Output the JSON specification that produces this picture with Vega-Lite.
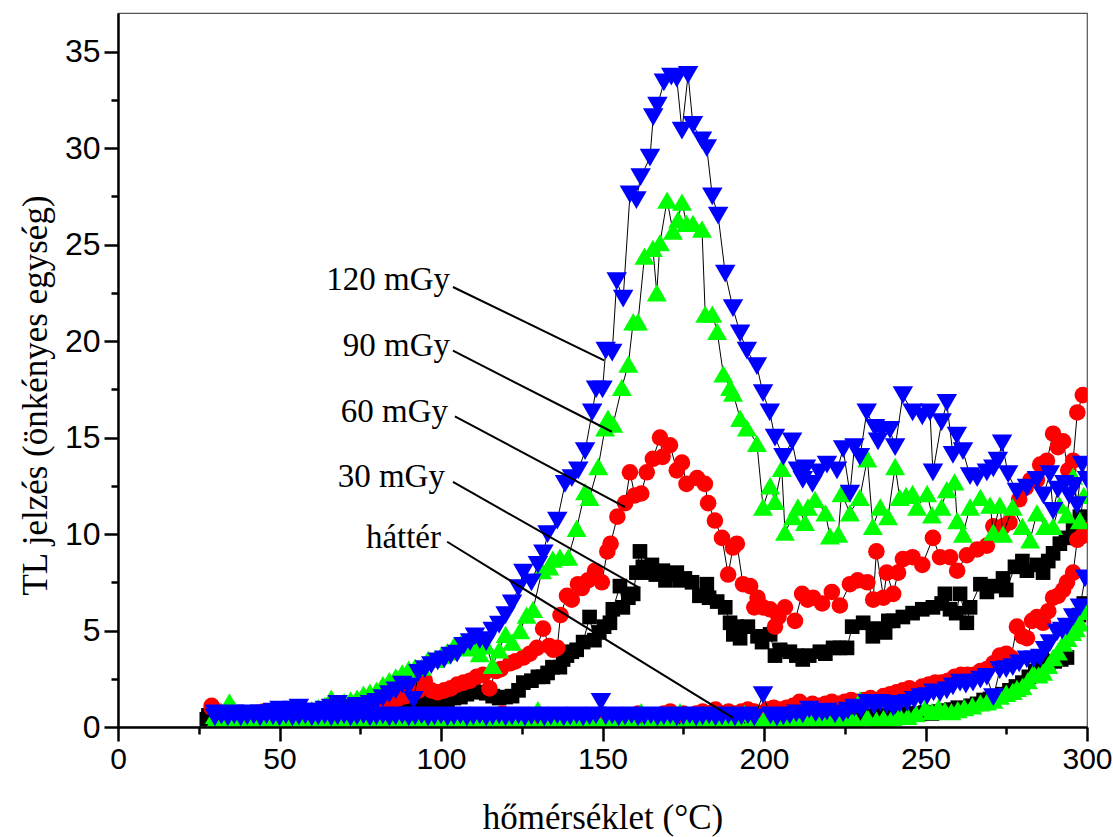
{
"$schema":"https://vega.github.io/schema/vega-lite/v6.json",
"width":969,"height":714,
"autosize":{"type":"none"},
"padding":{"left":118,"top":13,"right":26,"bottom":110},
"background":"white",
"config":{"view":{"stroke":"#555","strokeWidth":1.2}},
"datasets":{
"ann":[
{"x1":103.7,"y1":22.8,"x2":150.5,"y2":19.0,"tx":102.8,"ty":22.65,"l":"120 mGy"},
{"x1":103.7,"y1":19.5,"x2":152.9,"y2":15.3,"tx":102.8,"ty":19.23,"l":"90 mGy"},
{"x1":104.3,"y1":16.1,"x2":157.0,"y2":11.4,"tx":102.2,"ty":15.81,"l":"60 mGy"},
{"x1":103.7,"y1":12.7,"x2":161.6,"y2":7.2,"tx":101.2,"ty":12.44,"l":"30 mGy"},
{"x1":101.9,"y1":9.6,"x2":190.4,"y2":0.47,"tx":100.0,"ty":9.28,"l":"háttér"}
],
"pts":[
{"s":"k","t":28,"v":0.6},{"s":"k","t":30,"v":0.5},{"s":"k","t":32,"v":0.6},{"s":"k","t":34,"v":0.5},{"s":"k","t":36,"v":0.6},{"s":"k","t":38,"v":0.5},{"s":"k","t":40,"v":0.6},{"s":"k","t":42,"v":0.5},{"s":"k","t":44,"v":0.6},{"s":"k","t":46,"v":0.6},{"s":"k","t":48,"v":0.7},{"s":"k","t":50,"v":0.6},{"s":"k","t":52,"v":0.7},{"s":"k","t":54,"v":0.6},{"s":"k","t":56,"v":0.7},{"s":"k","t":58,"v":0.7},{"s":"k","t":60,"v":0.8},{"s":"k","t":62,"v":0.7},{"s":"k","t":64,"v":0.8},{"s":"k","t":66,"v":0.8},{"s":"k","t":68,"v":0.9},{"s":"k","t":70,"v":0.8},{"s":"k","t":72,"v":0.9},{"s":"k","t":74,"v":1.0},{"s":"k","t":76,"v":0.9},{"s":"k","t":78,"v":1.0},{"s":"k","t":80,"v":1.1},{"s":"k","t":82,"v":1.0},{"s":"k","t":84,"v":1.1},{"s":"k","t":86,"v":1.2},{"s":"k","t":88,"v":1.1},{"s":"k","t":90,"v":1.2},{"s":"k","t":92,"v":1.25},{"s":"k","t":94,"v":1.3},{"s":"k","t":96,"v":1.3},{"s":"k","t":98,"v":1.3},{"s":"k","t":100,"v":1.35},{"s":"k","t":102,"v":1.4},{"s":"k","t":104,"v":1.5},{"s":"k","t":106,"v":1.55},{"s":"k","t":108,"v":1.7},{"s":"k","t":110,"v":1.9},{"s":"k","t":112,"v":1.8},{"s":"k","t":114,"v":1.75},{"s":"k","t":116,"v":1.6},{"s":"k","t":118,"v":1.5},{"s":"k","t":120,"v":1.55},{"s":"k","t":122,"v":1.6},{"s":"k","t":124,"v":1.9},{"s":"k","t":125.5,"v":2.3},{"s":"k","t":128,"v":2.4},{"s":"k","t":130,"v":2.6},{"s":"k","t":131.6,"v":2.6},{"s":"k","t":133,"v":2.8},{"s":"k","t":134.5,"v":3.1},{"s":"k","t":136.8,"v":3.1},{"s":"k","t":137.8,"v":3.5},{"s":"k","t":139,"v":3.7},{"s":"k","t":140.5,"v":3.9},{"s":"k","t":142,"v":4.0},{"s":"k","t":144,"v":4.4},{"s":"k","t":146,"v":5.7},{"s":"k","t":147.5,"v":4.5},{"s":"k","t":149,"v":4.9},{"s":"k","t":150.5,"v":5.2},{"s":"k","t":152.3,"v":5.4},{"s":"k","t":153.2,"v":6.1},{"s":"k","t":155.4,"v":7.3},{"s":"k","t":156.3,"v":6.2},{"s":"k","t":158,"v":6.7},{"s":"k","t":159.5,"v":6.9},{"s":"k","t":160.5,"v":8.0},{"s":"k","t":161.6,"v":9.1},{"s":"k","t":162.5,"v":8.3},{"s":"k","t":164.7,"v":8.0},{"s":"k","t":165.3,"v":8.4},{"s":"k","t":166.5,"v":7.9},{"s":"k","t":168.7,"v":8.1},{"s":"k","t":169.5,"v":7.6},{"s":"k","t":171,"v":7.9},{"s":"k","t":173,"v":8.0},{"s":"k","t":174,"v":7.6},{"s":"k","t":175.5,"v":7.7},{"s":"k","t":177.7,"v":7.5},{"s":"k","t":180,"v":6.8},{"s":"k","t":182.3,"v":7.4},{"s":"k","t":183,"v":6.7},{"s":"k","t":185.5,"v":6.5},{"s":"k","t":188,"v":6.2},{"s":"k","t":189.5,"v":5.4},{"s":"k","t":190.5,"v":4.8},{"s":"k","t":191.5,"v":5.2},{"s":"k","t":192.6,"v":4.6},{"s":"k","t":195,"v":5.2},{"s":"k","t":198,"v":4.7},{"s":"k","t":199.4,"v":4.4},{"s":"k","t":201.9,"v":4.8},{"s":"k","t":203.4,"v":3.7},{"s":"k","t":205,"v":4.0},{"s":"k","t":208,"v":3.9},{"s":"k","t":210,"v":3.7},{"s":"k","t":212,"v":3.5},{"s":"k","t":214,"v":3.7},{"s":"k","t":217.3,"v":3.9},{"s":"k","t":219,"v":3.8},{"s":"k","t":221.4,"v":4.1},{"s":"k","t":223.5,"v":4.1},{"s":"k","t":225.7,"v":4.1},{"s":"k","t":227.3,"v":5.2},{"s":"k","t":230.7,"v":5.4},{"s":"k","t":233.7,"v":4.7},{"s":"k","t":235,"v":5.1},{"s":"k","t":237.5,"v":4.9},{"s":"k","t":238.5,"v":5.5},{"s":"k","t":240,"v":5.5},{"s":"k","t":243,"v":5.7},{"s":"k","t":246,"v":5.9},{"s":"k","t":249,"v":6.1},{"s":"k","t":252.3,"v":6.2},{"s":"k","t":255,"v":6.4},{"s":"k","t":256,"v":6.9},{"s":"k","t":257.6,"v":6.1},{"s":"k","t":259.5,"v":5.9},{"s":"k","t":260.7,"v":6.9},{"s":"k","t":262.8,"v":5.4},{"s":"k","t":263.8,"v":6.2},{"s":"k","t":267,"v":7.4},{"s":"k","t":269,"v":7.0},{"s":"k","t":271,"v":7.3},{"s":"k","t":274,"v":7.7},{"s":"k","t":275,"v":7.1},{"s":"k","t":277.7,"v":8.3},{"s":"k","t":280,"v":8.6},{"s":"k","t":281.4,"v":8.1},{"s":"k","t":284.5,"v":8.4},{"s":"k","t":286.4,"v":8.0},{"s":"k","t":288,"v":8.6},{"s":"k","t":289.5,"v":9.0},{"s":"k","t":291.6,"v":9.5},{"s":"k","t":293.5,"v":9.8},{"s":"k","t":295.7,"v":10.2},{"s":"k","t":297.8,"v":10.9},{"s":"k","t":299.5,"v":10.4},
{"s":"kh","t":27.5,"v":0.4},{"s":"kh","t":30,"v":0.3},{"s":"kh","t":32,"v":0.4},{"s":"kh","t":34,"v":0.3},{"s":"kh","t":36,"v":0.4},{"s":"kh","t":38,"v":0.3},{"s":"kh","t":40,"v":0.35},{"s":"kh","t":42,"v":0.4},{"s":"kh","t":44,"v":0.3},{"s":"kh","t":46,"v":0.35},{"s":"kh","t":48,"v":0.4},{"s":"kh","t":50,"v":0.3},{"s":"kh","t":52,"v":0.35},{"s":"kh","t":54,"v":0.4},{"s":"kh","t":56,"v":0.3},{"s":"kh","t":58,"v":0.4},{"s":"kh","t":60,"v":0.35},{"s":"kh","t":62,"v":0.3},{"s":"kh","t":64,"v":0.4},{"s":"kh","t":66,"v":0.35},{"s":"kh","t":68,"v":0.3},{"s":"kh","t":70,"v":0.4},{"s":"kh","t":72,"v":0.35},{"s":"kh","t":74,"v":0.3},{"s":"kh","t":76,"v":0.4},{"s":"kh","t":78,"v":0.35},{"s":"kh","t":80,"v":0.4},{"s":"kh","t":82,"v":0.3},{"s":"kh","t":84,"v":0.35},{"s":"kh","t":86,"v":0.4},{"s":"kh","t":88,"v":0.3},{"s":"kh","t":90,"v":0.35},{"s":"kh","t":92,"v":0.4},{"s":"kh","t":94,"v":0.3},{"s":"kh","t":96,"v":0.4},{"s":"kh","t":98,"v":0.35},{"s":"kh","t":100,"v":0.3},{"s":"kh","t":102,"v":0.4},{"s":"kh","t":104,"v":0.35},{"s":"kh","t":106,"v":0.4},{"s":"kh","t":108,"v":0.3},{"s":"kh","t":110,"v":0.35},{"s":"kh","t":112,"v":0.4},{"s":"kh","t":114,"v":0.3},{"s":"kh","t":116,"v":0.35},{"s":"kh","t":118,"v":0.4},{"s":"kh","t":120,"v":0.3},{"s":"kh","t":122,"v":0.35},{"s":"kh","t":124,"v":0.4},{"s":"kh","t":126,"v":0.35},{"s":"kh","t":128,"v":0.3},{"s":"kh","t":130,"v":0.4},{"s":"kh","t":132,"v":0.35},{"s":"kh","t":134,"v":0.3},{"s":"kh","t":136,"v":0.4},{"s":"kh","t":138,"v":0.35},{"s":"kh","t":140,"v":0.4},{"s":"kh","t":142,"v":0.3},{"s":"kh","t":144,"v":0.35},{"s":"kh","t":146,"v":0.4},{"s":"kh","t":148,"v":0.35},{"s":"kh","t":150,"v":0.3},{"s":"kh","t":152,"v":0.4},{"s":"kh","t":154,"v":0.35},{"s":"kh","t":156,"v":0.4},{"s":"kh","t":158,"v":0.3},{"s":"kh","t":160,"v":0.35},{"s":"kh","t":162,"v":0.4},{"s":"kh","t":164,"v":0.35},{"s":"kh","t":166,"v":0.4},{"s":"kh","t":168,"v":0.3},{"s":"kh","t":170,"v":0.4},{"s":"kh","t":172,"v":0.35},{"s":"kh","t":174,"v":0.4},{"s":"kh","t":176,"v":0.35},{"s":"kh","t":178,"v":0.4},{"s":"kh","t":180,"v":0.45},{"s":"kh","t":182,"v":0.4},{"s":"kh","t":184,"v":0.35},{"s":"kh","t":186,"v":0.4},{"s":"kh","t":188,"v":0.45},{"s":"kh","t":190,"v":0.4},{"s":"kh","t":192,"v":0.45},{"s":"kh","t":194,"v":0.4},{"s":"kh","t":196,"v":0.45},{"s":"kh","t":198,"v":0.5},{"s":"kh","t":200,"v":0.45},{"s":"kh","t":202,"v":0.4},{"s":"kh","t":204,"v":0.5},{"s":"kh","t":206,"v":0.45},{"s":"kh","t":208,"v":0.5},{"s":"kh","t":210,"v":0.45},{"s":"kh","t":212,"v":0.5},{"s":"kh","t":214,"v":0.55},{"s":"kh","t":216,"v":0.5},{"s":"kh","t":218,"v":0.45},{"s":"kh","t":220,"v":0.5},{"s":"kh","t":222,"v":0.55},{"s":"kh","t":224,"v":0.5},{"s":"kh","t":226,"v":0.55},{"s":"kh","t":228,"v":0.6},{"s":"kh","t":230,"v":0.55},{"s":"kh","t":232,"v":0.5},{"s":"kh","t":234,"v":0.6},{"s":"kh","t":236,"v":0.55},{"s":"kh","t":238,"v":0.6},{"s":"kh","t":240,"v":0.65},{"s":"kh","t":242,"v":0.6},{"s":"kh","t":244,"v":0.7},{"s":"kh","t":246,"v":0.65},{"s":"kh","t":248,"v":0.7},{"s":"kh","t":250,"v":0.75},{"s":"kh","t":252,"v":0.7},{"s":"kh","t":254,"v":0.8},{"s":"kh","t":256,"v":0.85},{"s":"kh","t":258,"v":0.9},{"s":"kh","t":260,"v":1.0},{"s":"kh","t":262,"v":0.95},{"s":"kh","t":264,"v":1.1},{"s":"kh","t":266,"v":1.2},{"s":"kh","t":268,"v":1.4},{"s":"kh","t":270,"v":1.45},{"s":"kh","t":272,"v":1.6},{"s":"kh","t":274,"v":1.7},{"s":"kh","t":276,"v":1.9},{"s":"kh","t":278,"v":2.1},{"s":"kh","t":280,"v":2.3},{"s":"kh","t":282,"v":2.6},{"s":"kh","t":284,"v":2.9},{"s":"kh","t":286,"v":3.5},{"s":"kh","t":288,"v":3.2},{"s":"kh","t":290,"v":3.4},{"s":"kh","t":292,"v":3.5},{"s":"kh","t":293.8,"v":3.6},{"s":"kh","t":295.7,"v":5.2},{"s":"kh","t":297.5,"v":5.8},{"s":"kh","t":299,"v":6.4},
{"s":"r","t":29,"v":1.0},{"s":"r","t":31,"v":0.8},{"s":"r","t":33,"v":0.7},{"s":"r","t":35,"v":0.6},{"s":"r","t":37,"v":0.6},{"s":"r","t":39,"v":0.7},{"s":"r","t":41,"v":0.6},{"s":"r","t":43,"v":0.7},{"s":"r","t":45,"v":0.8},{"s":"r","t":47,"v":0.6},{"s":"r","t":49,"v":0.7},{"s":"r","t":51,"v":0.8},{"s":"r","t":53,"v":0.9},{"s":"r","t":55,"v":0.7},{"s":"r","t":57,"v":0.6},{"s":"r","t":59,"v":0.7},{"s":"r","t":61,"v":0.8},{"s":"r","t":63,"v":0.7},{"s":"r","t":65,"v":0.9},{"s":"r","t":67,"v":0.8},{"s":"r","t":69,"v":0.9},{"s":"r","t":71,"v":1.0},{"s":"r","t":73,"v":1.0},{"s":"r","t":75,"v":1.2},{"s":"r","t":77,"v":1.5},{"s":"r","t":79,"v":1.3},{"s":"r","t":81,"v":1.2},{"s":"r","t":83,"v":1.4},{"s":"r","t":85,"v":1.3},{"s":"r","t":87,"v":1.5},{"s":"r","t":89,"v":1.6},{"s":"r","t":91,"v":1.75},{"s":"r","t":93,"v":1.9},{"s":"r","t":95,"v":2.4},{"s":"r","t":97,"v":1.9},{"s":"r","t":99,"v":1.8},{"s":"r","t":101,"v":1.9},{"s":"r","t":103,"v":2.0},{"s":"r","t":105,"v":2.2},{"s":"r","t":107,"v":2.3},{"s":"r","t":109,"v":2.4},{"s":"r","t":111,"v":2.6},{"s":"r","t":113,"v":2.7},{"s":"r","t":115,"v":2.0},{"s":"r","t":117,"v":2.9},{"s":"r","t":118.5,"v":3.0},{"s":"r","t":121.4,"v":3.3},{"s":"r","t":123,"v":3.4},{"s":"r","t":125.5,"v":3.6},{"s":"r","t":127.5,"v":3.8},{"s":"r","t":129.7,"v":4.1},{"s":"r","t":131.6,"v":5.1},{"s":"r","t":133.5,"v":4.2},{"s":"r","t":134.8,"v":4.0},{"s":"r","t":136,"v":4.1},{"s":"r","t":137,"v":5.8},{"s":"r","t":139,"v":6.8},{"s":"r","t":140.5,"v":6.6},{"s":"r","t":142.4,"v":7.4},{"s":"r","t":143.6,"v":7.2},{"s":"r","t":145.5,"v":7.6},{"s":"r","t":147.7,"v":8.1},{"s":"r","t":149.8,"v":7.5},{"s":"r","t":151.5,"v":9.1},{"s":"r","t":152.5,"v":9.5},{"s":"r","t":154.6,"v":10.9},{"s":"r","t":157,"v":11.6},{"s":"r","t":158.5,"v":13.2},{"s":"r","t":160,"v":12.0},{"s":"r","t":162,"v":12.1},{"s":"r","t":163.7,"v":13.2},{"s":"r","t":165.6,"v":13.9},{"s":"r","t":167.8,"v":15.0},{"s":"r","t":168.6,"v":14.0},{"s":"r","t":170.9,"v":14.6},{"s":"r","t":173,"v":13.3},{"s":"r","t":174.6,"v":13.7},{"s":"r","t":176,"v":12.6},{"s":"r","t":179.3,"v":12.9},{"s":"r","t":181.7,"v":12.6},{"s":"r","t":182.7,"v":11.6},{"s":"r","t":184.8,"v":10.7},{"s":"r","t":187,"v":9.8},{"s":"r","t":188.9,"v":7.9},{"s":"r","t":190.4,"v":9.3},{"s":"r","t":191.6,"v":9.5},{"s":"r","t":193.5,"v":7.4},{"s":"r","t":195.7,"v":7.3},{"s":"r","t":197,"v":6.2},{"s":"r","t":198,"v":6.7},{"s":"r","t":199.7,"v":6.2},{"s":"r","t":201.9,"v":6.1},{"s":"r","t":203.4,"v":5.2},{"s":"r","t":204.5,"v":5.7},{"s":"r","t":206.5,"v":6.2},{"s":"r","t":209.6,"v":5.5},{"s":"r","t":211.8,"v":6.9},{"s":"r","t":213.5,"v":6.6},{"s":"r","t":215.2,"v":6.7},{"s":"r","t":218,"v":6.4},{"s":"r","t":221,"v":7.0},{"s":"r","t":223.5,"v":6.3},{"s":"r","t":226.6,"v":7.4},{"s":"r","t":229,"v":7.6},{"s":"r","t":232,"v":7.5},{"s":"r","t":233.8,"v":6.6},{"s":"r","t":234.8,"v":9.1},{"s":"r","t":237,"v":6.7},{"s":"r","t":238,"v":8.0},{"s":"r","t":240,"v":6.9},{"s":"r","t":241.5,"v":8.0},{"s":"r","t":243,"v":8.7},{"s":"r","t":246,"v":8.8},{"s":"r","t":249,"v":8.4},{"s":"r","t":252.3,"v":9.8},{"s":"r","t":254.5,"v":8.8},{"s":"r","t":257.6,"v":8.8},{"s":"r","t":259.8,"v":8.1},{"s":"r","t":262.8,"v":8.9},{"s":"r","t":266,"v":9.2},{"s":"r","t":269,"v":9.4},{"s":"r","t":271,"v":10.4},{"s":"r","t":274,"v":10.4},{"s":"r","t":276,"v":10.6},{"s":"r","t":279,"v":11.8},{"s":"r","t":281,"v":12.4},{"s":"r","t":282.5,"v":12.8},{"s":"r","t":284.5,"v":12.8},{"s":"r","t":285.5,"v":13.6},{"s":"r","t":287.6,"v":13.8},{"s":"r","t":289.5,"v":15.2},{"s":"r","t":291,"v":14.5},{"s":"r","t":292.6,"v":14.8},{"s":"r","t":294.2,"v":13.3},{"s":"r","t":295.7,"v":13.8},{"s":"r","t":297,"v":16.3},{"s":"r","t":298.7,"v":17.2},
{"s":"rh","t":29,"v":1.1},{"s":"rh","t":31,"v":0.6},{"s":"rh","t":33,"v":0.5},{"s":"rh","t":35,"v":0.4},{"s":"rh","t":37,"v":0.5},{"s":"rh","t":39,"v":0.4},{"s":"rh","t":41,"v":0.6},{"s":"rh","t":43,"v":0.5},{"s":"rh","t":45,"v":0.4},{"s":"rh","t":47,"v":0.5},{"s":"rh","t":49,"v":0.7},{"s":"rh","t":51,"v":0.6},{"s":"rh","t":53,"v":0.5},{"s":"rh","t":55,"v":0.4},{"s":"rh","t":57,"v":0.5},{"s":"rh","t":59,"v":0.6},{"s":"rh","t":61,"v":0.5},{"s":"rh","t":63,"v":0.4},{"s":"rh","t":65,"v":0.5},{"s":"rh","t":67,"v":0.6},{"s":"rh","t":69,"v":0.4},{"s":"rh","t":71,"v":0.5},{"s":"rh","t":73,"v":0.6},{"s":"rh","t":75,"v":0.5},{"s":"rh","t":77,"v":0.4},{"s":"rh","t":79,"v":0.5},{"s":"rh","t":81,"v":0.6},{"s":"rh","t":83,"v":0.5},{"s":"rh","t":85,"v":0.4},{"s":"rh","t":87,"v":0.6},{"s":"rh","t":89,"v":0.5},{"s":"rh","t":91,"v":0.4},{"s":"rh","t":93,"v":0.5},{"s":"rh","t":95,"v":0.6},{"s":"rh","t":97,"v":0.5},{"s":"rh","t":99,"v":0.4},{"s":"rh","t":101,"v":0.5},{"s":"rh","t":103,"v":0.6},{"s":"rh","t":105,"v":0.4},{"s":"rh","t":107,"v":0.5},{"s":"rh","t":109,"v":0.6},{"s":"rh","t":111,"v":0.5},{"s":"rh","t":113,"v":0.4},{"s":"rh","t":115,"v":0.6},{"s":"rh","t":117,"v":0.5},{"s":"rh","t":119,"v":0.7},{"s":"rh","t":121,"v":0.5},{"s":"rh","t":123,"v":0.4},{"s":"rh","t":125,"v":0.5},{"s":"rh","t":127,"v":0.6},{"s":"rh","t":129,"v":0.5},{"s":"rh","t":131,"v":0.6},{"s":"rh","t":133,"v":0.4},{"s":"rh","t":135,"v":0.5},{"s":"rh","t":137,"v":0.6},{"s":"rh","t":139,"v":0.5},{"s":"rh","t":141,"v":0.4},{"s":"rh","t":143,"v":0.5},{"s":"rh","t":145,"v":0.6},{"s":"rh","t":147,"v":0.5},{"s":"rh","t":149,"v":0.6},{"s":"rh","t":151,"v":0.5},{"s":"rh","t":153,"v":0.4},{"s":"rh","t":155,"v":0.5},{"s":"rh","t":157,"v":0.6},{"s":"rh","t":159,"v":0.5},{"s":"rh","t":161,"v":0.7},{"s":"rh","t":163,"v":0.6},{"s":"rh","t":165,"v":0.5},{"s":"rh","t":167,"v":0.6},{"s":"rh","t":169,"v":0.7},{"s":"rh","t":171,"v":0.8},{"s":"rh","t":173,"v":0.6},{"s":"rh","t":175,"v":0.7},{"s":"rh","t":177,"v":0.6},{"s":"rh","t":179,"v":0.7},{"s":"rh","t":181,"v":0.8},{"s":"rh","t":183,"v":0.7},{"s":"rh","t":185,"v":0.9},{"s":"rh","t":187,"v":0.7},{"s":"rh","t":189,"v":0.8},{"s":"rh","t":191,"v":0.7},{"s":"rh","t":193,"v":0.8},{"s":"rh","t":195,"v":0.9},{"s":"rh","t":197,"v":0.8},{"s":"rh","t":199,"v":0.7},{"s":"rh","t":201,"v":0.9},{"s":"rh","t":203,"v":1.0},{"s":"rh","t":205,"v":0.9},{"s":"rh","t":207,"v":1.0},{"s":"rh","t":209,"v":1.1},{"s":"rh","t":211,"v":1.3},{"s":"rh","t":213,"v":1.1},{"s":"rh","t":215,"v":1.2},{"s":"rh","t":217,"v":1.1},{"s":"rh","t":219,"v":1.2},{"s":"rh","t":221,"v":1.3},{"s":"rh","t":223,"v":1.2},{"s":"rh","t":225,"v":1.3},{"s":"rh","t":227,"v":1.4},{"s":"rh","t":229,"v":1.3},{"s":"rh","t":231,"v":1.4},{"s":"rh","t":233,"v":1.5},{"s":"rh","t":235,"v":1.4},{"s":"rh","t":237,"v":1.6},{"s":"rh","t":239,"v":1.7},{"s":"rh","t":241,"v":1.8},{"s":"rh","t":243,"v":1.9},{"s":"rh","t":245,"v":2.0},{"s":"rh","t":247,"v":1.9},{"s":"rh","t":249,"v":2.1},{"s":"rh","t":251,"v":2.2},{"s":"rh","t":253,"v":2.3},{"s":"rh","t":255,"v":2.3},{"s":"rh","t":257,"v":2.4},{"s":"rh","t":259,"v":2.6},{"s":"rh","t":261,"v":2.7},{"s":"rh","t":263,"v":2.7},{"s":"rh","t":265,"v":2.7},{"s":"rh","t":267,"v":2.9},{"s":"rh","t":269,"v":3.0},{"s":"rh","t":271,"v":3.3},{"s":"rh","t":273,"v":3.7},{"s":"rh","t":275,"v":3.8},{"s":"rh","t":276.5,"v":3.6},{"s":"rh","t":278.3,"v":5.2},{"s":"rh","t":280,"v":4.7},{"s":"rh","t":281.4,"v":4.6},{"s":"rh","t":283,"v":5.5},{"s":"rh","t":284.5,"v":5.7},{"s":"rh","t":286.4,"v":5.4},{"s":"rh","t":288,"v":6.0},{"s":"rh","t":289.5,"v":6.7},{"s":"rh","t":291,"v":6.8},{"s":"rh","t":292.6,"v":7.1},{"s":"rh","t":293.8,"v":7.5},{"s":"rh","t":295.7,"v":8.0},{"s":"rh","t":297,"v":9.7},{"s":"rh","t":298.5,"v":9.9},{"s":"rh","t":300,"v":10.2},
{"s":"g","t":30,"v":0.6},{"s":"g","t":32,"v":0.8},{"s":"g","t":34.5,"v":1.3},{"s":"g","t":36,"v":0.9},{"s":"g","t":38,"v":0.7},{"s":"g","t":40,"v":0.6},{"s":"g","t":42,"v":0.7},{"s":"g","t":44,"v":0.6},{"s":"g","t":46,"v":0.8},{"s":"g","t":48,"v":0.7},{"s":"g","t":50,"v":0.6},{"s":"g","t":52,"v":0.7},{"s":"g","t":54,"v":0.8},{"s":"g","t":56,"v":0.7},{"s":"g","t":58,"v":0.8},{"s":"g","t":60,"v":0.9},{"s":"g","t":62,"v":1.0},{"s":"g","t":64,"v":1.1},{"s":"g","t":66,"v":1.5},{"s":"g","t":68,"v":1.2},{"s":"g","t":70,"v":1.3},{"s":"g","t":72,"v":1.4},{"s":"g","t":74,"v":1.5},{"s":"g","t":76,"v":1.7},{"s":"g","t":78,"v":1.8},{"s":"g","t":80,"v":1.9},{"s":"g","t":82,"v":2.2},{"s":"g","t":84,"v":2.4},{"s":"g","t":86,"v":2.6},{"s":"g","t":88,"v":2.8},{"s":"g","t":90,"v":3.0},{"s":"g","t":92,"v":3.1},{"s":"g","t":94,"v":3.1},{"s":"g","t":96,"v":3.5},{"s":"g","t":98,"v":3.5},{"s":"g","t":100,"v":3.7},{"s":"g","t":102,"v":3.9},{"s":"g","t":104,"v":4.2},{"s":"g","t":106,"v":4.3},{"s":"g","t":108,"v":4.1},{"s":"g","t":110,"v":4.3},{"s":"g","t":112,"v":3.8},{"s":"g","t":114,"v":4.2},{"s":"g","t":116,"v":3.2},{"s":"g","t":118,"v":4.0},{"s":"g","t":120,"v":4.8},{"s":"g","t":122,"v":4.4},{"s":"g","t":124.5,"v":5.0},{"s":"g","t":126.5,"v":5.8},{"s":"g","t":128.5,"v":6.1},{"s":"g","t":131.3,"v":8.1},{"s":"g","t":133.5,"v":8.3},{"s":"g","t":134.6,"v":8.7},{"s":"g","t":136.8,"v":8.8},{"s":"g","t":139.4,"v":8.8},{"s":"g","t":142,"v":10.3},{"s":"g","t":144.6,"v":12.2},{"s":"g","t":146,"v":11.9},{"s":"g","t":148.7,"v":13.5},{"s":"g","t":150.8,"v":15.5},{"s":"g","t":151.7,"v":16.0},{"s":"g","t":153.3,"v":15.7},{"s":"g","t":156,"v":17.6},{"s":"g","t":158,"v":18.8},{"s":"g","t":159.5,"v":21.0},{"s":"g","t":161,"v":21.0},{"s":"g","t":163,"v":24.4},{"s":"g","t":165.6,"v":24.8},{"s":"g","t":166.8,"v":22.5},{"s":"g","t":167.8,"v":25.1},{"s":"g","t":170,"v":27.3},{"s":"g","t":171.8,"v":25.7},{"s":"g","t":173.4,"v":26.3},{"s":"g","t":174.6,"v":27.2},{"s":"g","t":176,"v":26.1},{"s":"g","t":178,"v":26.1},{"s":"g","t":180.8,"v":25.8},{"s":"g","t":181.8,"v":21.4},{"s":"g","t":184,"v":21.4},{"s":"g","t":185.5,"v":20.5},{"s":"g","t":187.4,"v":18.3},{"s":"g","t":189.5,"v":17.6},{"s":"g","t":190.4,"v":17.3},{"s":"g","t":192.6,"v":16.0},{"s":"g","t":194.7,"v":15.5},{"s":"g","t":197.8,"v":14.7},{"s":"g","t":199.7,"v":11.4},{"s":"g","t":201.9,"v":12.5},{"s":"g","t":203.4,"v":11.7},{"s":"g","t":205.5,"v":13.4},{"s":"g","t":206.5,"v":10.1},{"s":"g","t":209,"v":10.9},{"s":"g","t":210.5,"v":11.4},{"s":"g","t":212.7,"v":10.6},{"s":"g","t":213.6,"v":11.4},{"s":"g","t":215.8,"v":11.8},{"s":"g","t":219,"v":11.1},{"s":"g","t":220.4,"v":9.9},{"s":"g","t":223,"v":10.0},{"s":"g","t":224,"v":12.1},{"s":"g","t":226.6,"v":11.1},{"s":"g","t":229.7,"v":11.9},{"s":"g","t":232,"v":13.9},{"s":"g","t":233.7,"v":10.4},{"s":"g","t":236,"v":11.4},{"s":"g","t":238.4,"v":10.9},{"s":"g","t":240.6,"v":13.5},{"s":"g","t":242,"v":11.9},{"s":"g","t":244,"v":12.0},{"s":"g","t":246,"v":12.1},{"s":"g","t":247.4,"v":11.4},{"s":"g","t":250.5,"v":12.1},{"s":"g","t":252,"v":11.0},{"s":"g","t":255,"v":11.4},{"s":"g","t":256.6,"v":12.3},{"s":"g","t":259,"v":12.7},{"s":"g","t":259.8,"v":10.7},{"s":"g","t":261.6,"v":10.0},{"s":"g","t":263.8,"v":11.4},{"s":"g","t":267,"v":11.9},{"s":"g","t":270,"v":11.5},{"s":"g","t":271,"v":10.1},{"s":"g","t":273,"v":11.5},{"s":"g","t":274,"v":10.0},{"s":"g","t":277,"v":11.4},{"s":"g","t":280,"v":10.4},{"s":"g","t":282.4,"v":9.7},{"s":"g","t":284.5,"v":11.1},{"s":"g","t":287,"v":10.4},{"s":"g","t":289.5,"v":10.4},{"s":"g","t":291.5,"v":11.5},{"s":"g","t":293.8,"v":11.0},{"s":"g","t":295.7,"v":13.0},{"s":"g","t":297.8,"v":10.7},{"s":"g","t":299,"v":12.0},
{"s":"gh","t":30,"v":0.3},{"s":"gh","t":32,"v":0.5},{"s":"gh","t":34,"v":0.2},{"s":"gh","t":36,"v":0.4},{"s":"gh","t":38,"v":0.3},{"s":"gh","t":40,"v":0.2},{"s":"gh","t":42,"v":0.4},{"s":"gh","t":44,"v":0.3},{"s":"gh","t":46,"v":0.2},{"s":"gh","t":48,"v":0.5},{"s":"gh","t":50,"v":0.3},{"s":"gh","t":52,"v":0.2},{"s":"gh","t":54,"v":0.4},{"s":"gh","t":56,"v":0.3},{"s":"gh","t":58,"v":0.2},{"s":"gh","t":60,"v":0.4},{"s":"gh","t":62,"v":0.3},{"s":"gh","t":64,"v":0.5},{"s":"gh","t":66,"v":0.2},{"s":"gh","t":68,"v":0.3},{"s":"gh","t":70,"v":0.4},{"s":"gh","t":72,"v":0.2},{"s":"gh","t":74,"v":0.3},{"s":"gh","t":76,"v":0.5},{"s":"gh","t":78,"v":0.3},{"s":"gh","t":80,"v":0.2},{"s":"gh","t":82,"v":0.4},{"s":"gh","t":84,"v":0.3},{"s":"gh","t":86,"v":0.2},{"s":"gh","t":88,"v":0.4},{"s":"gh","t":90,"v":0.3},{"s":"gh","t":92,"v":0.5},{"s":"gh","t":94,"v":0.2},{"s":"gh","t":96,"v":0.3},{"s":"gh","t":98,"v":0.4},{"s":"gh","t":100,"v":0.2},{"s":"gh","t":102,"v":0.3},{"s":"gh","t":104,"v":0.5},{"s":"gh","t":106,"v":0.3},{"s":"gh","t":108,"v":0.2},{"s":"gh","t":110,"v":0.4},{"s":"gh","t":112,"v":0.3},{"s":"gh","t":114,"v":0.2},{"s":"gh","t":116,"v":0.4},{"s":"gh","t":118,"v":0.3},{"s":"gh","t":120,"v":0.5},{"s":"gh","t":122,"v":0.2},{"s":"gh","t":124,"v":0.3},{"s":"gh","t":126,"v":0.4},{"s":"gh","t":128,"v":0.2},{"s":"gh","t":130,"v":0.9},{"s":"gh","t":132,"v":0.3},{"s":"gh","t":134,"v":0.4},{"s":"gh","t":136,"v":0.2},{"s":"gh","t":138,"v":0.3},{"s":"gh","t":140,"v":0.5},{"s":"gh","t":142,"v":0.3},{"s":"gh","t":144,"v":0.2},{"s":"gh","t":146,"v":0.4},{"s":"gh","t":148,"v":0.3},{"s":"gh","t":150,"v":0.2},{"s":"gh","t":152,"v":0.4},{"s":"gh","t":154,"v":0.3},{"s":"gh","t":156,"v":0.5},{"s":"gh","t":158,"v":0.2},{"s":"gh","t":160,"v":0.3},{"s":"gh","t":162,"v":0.8},{"s":"gh","t":164,"v":0.3},{"s":"gh","t":166,"v":0.2},{"s":"gh","t":168,"v":0.4},{"s":"gh","t":170,"v":0.3},{"s":"gh","t":172,"v":0.2},{"s":"gh","t":174,"v":0.8},{"s":"gh","t":176,"v":0.3},{"s":"gh","t":178,"v":0.4},{"s":"gh","t":180,"v":0.2},{"s":"gh","t":182,"v":0.3},{"s":"gh","t":184,"v":0.5},{"s":"gh","t":186,"v":0.3},{"s":"gh","t":188,"v":0.2},{"s":"gh","t":190,"v":0.4},{"s":"gh","t":192,"v":0.3},{"s":"gh","t":194,"v":0.7},{"s":"gh","t":196,"v":0.3},{"s":"gh","t":198,"v":0.2},{"s":"gh","t":200,"v":0.4},{"s":"gh","t":202,"v":0.3},{"s":"gh","t":204,"v":0.5},{"s":"gh","t":206,"v":0.3},{"s":"gh","t":208,"v":0.4},{"s":"gh","t":210,"v":0.3},{"s":"gh","t":212,"v":0.2},{"s":"gh","t":214,"v":0.4},{"s":"gh","t":216,"v":0.3},{"s":"gh","t":218,"v":0.5},{"s":"gh","t":220,"v":0.3},{"s":"gh","t":222,"v":0.4},{"s":"gh","t":224,"v":0.3},{"s":"gh","t":226,"v":0.5},{"s":"gh","t":228,"v":0.4},{"s":"gh","t":229.7,"v":1.4},{"s":"gh","t":232,"v":0.5},{"s":"gh","t":234.8,"v":0.35},{"s":"gh","t":237,"v":0.45},{"s":"gh","t":239.7,"v":0.5},{"s":"gh","t":242,"v":0.6},{"s":"gh","t":244.5,"v":0.55},{"s":"gh","t":247,"v":0.7},{"s":"gh","t":250,"v":1.0},{"s":"gh","t":252,"v":0.8},{"s":"gh","t":254,"v":1.0},{"s":"gh","t":256,"v":0.85},{"s":"gh","t":258,"v":0.8},{"s":"gh","t":260,"v":0.9},{"s":"gh","t":262,"v":1.0},{"s":"gh","t":264.5,"v":1.1},{"s":"gh","t":267,"v":1.25},{"s":"gh","t":269,"v":1.3},{"s":"gh","t":271,"v":1.4},{"s":"gh","t":273,"v":1.6},{"s":"gh","t":275,"v":1.75},{"s":"gh","t":277,"v":1.85},{"s":"gh","t":278.3,"v":2.0},{"s":"gh","t":280,"v":2.1},{"s":"gh","t":281.7,"v":2.4},{"s":"gh","t":283.4,"v":2.8},{"s":"gh","t":285,"v":2.7},{"s":"gh","t":286.4,"v":2.85},{"s":"gh","t":288,"v":3.2},{"s":"gh","t":289.5,"v":3.6},{"s":"gh","t":291,"v":3.9},{"s":"gh","t":292.6,"v":4.35},{"s":"gh","t":294,"v":4.6},{"s":"gh","t":295.4,"v":4.9},{"s":"gh","t":296.6,"v":5.1},{"s":"gh","t":297.8,"v":5.4},{"s":"gh","t":299.5,"v":6.0},
{"s":"b","t":30,"v":0.7},{"s":"b","t":32,"v":0.6},{"s":"b","t":34,"v":0.6},{"s":"b","t":36,"v":0.7},{"s":"b","t":38,"v":0.6},{"s":"b","t":40,"v":0.7},{"s":"b","t":42,"v":0.6},{"s":"b","t":44,"v":0.7},{"s":"b","t":46,"v":0.7},{"s":"b","t":48,"v":0.8},{"s":"b","t":50,"v":0.9},{"s":"b","t":52,"v":0.8},{"s":"b","t":54,"v":0.9},{"s":"b","t":56,"v":1.0},{"s":"b","t":58,"v":0.8},{"s":"b","t":60,"v":0.8},{"s":"b","t":62,"v":0.7},{"s":"b","t":64,"v":0.9},{"s":"b","t":66,"v":1.0},{"s":"b","t":68,"v":1.2},{"s":"b","t":70,"v":0.9},{"s":"b","t":72,"v":1.0},{"s":"b","t":74,"v":1.1},{"s":"b","t":76,"v":1.0},{"s":"b","t":78,"v":1.2},{"s":"b","t":80,"v":1.3},{"s":"b","t":82,"v":1.5},{"s":"b","t":84,"v":1.7},{"s":"b","t":86,"v":1.9},{"s":"b","t":88,"v":2.2},{"s":"b","t":90,"v":2.1},{"s":"b","t":91.5,"v":1.4},{"s":"b","t":93,"v":2.8},{"s":"b","t":95,"v":3.0},{"s":"b","t":97,"v":3.2},{"s":"b","t":99,"v":3.4},{"s":"b","t":101,"v":3.5},{"s":"b","t":103,"v":3.7},{"s":"b","t":105,"v":3.8},{"s":"b","t":107,"v":4.2},{"s":"b","t":109,"v":4.4},{"s":"b","t":110.5,"v":4.7},{"s":"b","t":112,"v":4.5},{"s":"b","t":114,"v":4.4},{"s":"b","t":116,"v":5.0},{"s":"b","t":118,"v":5.3},{"s":"b","t":120,"v":5.8},{"s":"b","t":122,"v":6.4},{"s":"b","t":124,"v":7.2},{"s":"b","t":125.5,"v":8.0},{"s":"b","t":128,"v":7.5},{"s":"b","t":130,"v":8.4},{"s":"b","t":131.7,"v":9.0},{"s":"b","t":133,"v":10.0},{"s":"b","t":136,"v":10.7},{"s":"b","t":138.4,"v":12.6},{"s":"b","t":140.5,"v":12.9},{"s":"b","t":142.5,"v":13.3},{"s":"b","t":144.6,"v":14.3},{"s":"b","t":146.8,"v":16.3},{"s":"b","t":148,"v":17.5},{"s":"b","t":150,"v":17.5},{"s":"b","t":151,"v":19.5},{"s":"b","t":153,"v":19.4},{"s":"b","t":154.4,"v":23.1},{"s":"b","t":156.4,"v":22.2},{"s":"b","t":158.5,"v":27.6},{"s":"b","t":160.5,"v":27.3},{"s":"b","t":161.8,"v":28.5},{"s":"b","t":164.7,"v":29.5},{"s":"b","t":165.7,"v":31.6},{"s":"b","t":167,"v":32.2},{"s":"b","t":169,"v":33.4},{"s":"b","t":171.3,"v":33.7},{"s":"b","t":173,"v":33.6},{"s":"b","t":174.6,"v":30.9},{"s":"b","t":176.5,"v":33.8},{"s":"b","t":178,"v":31.2},{"s":"b","t":180.8,"v":30.4},{"s":"b","t":182.3,"v":30.0},{"s":"b","t":184,"v":27.5},{"s":"b","t":185.8,"v":26.5},{"s":"b","t":188,"v":23.5},{"s":"b","t":190.4,"v":21.7},{"s":"b","t":192.6,"v":20.4},{"s":"b","t":194.7,"v":19.5},{"s":"b","t":197.8,"v":18.7},{"s":"b","t":199.7,"v":17.3},{"s":"b","t":201.8,"v":16.3},{"s":"b","t":203.4,"v":15.0},{"s":"b","t":206,"v":14.0},{"s":"b","t":208.7,"v":14.8},{"s":"b","t":210.5,"v":13.3},{"s":"b","t":212,"v":12.8},{"s":"b","t":213,"v":13.4},{"s":"b","t":215,"v":12.6},{"s":"b","t":217,"v":13.2},{"s":"b","t":219.5,"v":13.6},{"s":"b","t":222.6,"v":13.3},{"s":"b","t":224.5,"v":14.4},{"s":"b","t":226.6,"v":12.1},{"s":"b","t":228,"v":14.5},{"s":"b","t":229.7,"v":14.0},{"s":"b","t":231.8,"v":16.3},{"s":"b","t":234.4,"v":15.5},{"s":"b","t":235.3,"v":14.8},{"s":"b","t":236.5,"v":15.4},{"s":"b","t":239,"v":15.4},{"s":"b","t":240.6,"v":14.5},{"s":"b","t":243,"v":17.2},{"s":"b","t":246,"v":16.3},{"s":"b","t":249,"v":16.1},{"s":"b","t":251.4,"v":16.3},{"s":"b","t":252.3,"v":13.2},{"s":"b","t":255,"v":15.8},{"s":"b","t":256.6,"v":16.8},{"s":"b","t":258.5,"v":14.1},{"s":"b","t":259.7,"v":15.1},{"s":"b","t":261.6,"v":14.3},{"s":"b","t":263.8,"v":13.0},{"s":"b","t":266,"v":12.9},{"s":"b","t":269,"v":13.2},{"s":"b","t":271,"v":13.4},{"s":"b","t":272.4,"v":13.8},{"s":"b","t":273.7,"v":14.7},{"s":"b","t":275.6,"v":13.1},{"s":"b","t":278.3,"v":12.2},{"s":"b","t":281.4,"v":12.4},{"s":"b","t":284.5,"v":12.8},{"s":"b","t":286.5,"v":12.0},{"s":"b","t":288.5,"v":13.1},{"s":"b","t":289.5,"v":11.2},{"s":"b","t":291,"v":12.3},{"s":"b","t":293,"v":12.6},{"s":"b","t":294.5,"v":12.0},{"s":"b","t":296,"v":12.5},{"s":"b","t":296.9,"v":11.5},{"s":"b","t":298.5,"v":13.6},{"s":"b","t":300,"v":12.8},
{"s":"bh","t":30,"v":0.5},{"s":"bh","t":32,"v":0.6},{"s":"bh","t":34,"v":0.5},{"s":"bh","t":36,"v":0.6},{"s":"bh","t":38,"v":0.5},{"s":"bh","t":40,"v":0.55},{"s":"bh","t":42,"v":0.6},{"s":"bh","t":44,"v":0.5},{"s":"bh","t":46,"v":0.6},{"s":"bh","t":48,"v":0.55},{"s":"bh","t":50,"v":0.5},{"s":"bh","t":52,"v":0.6},{"s":"bh","t":54,"v":0.5},{"s":"bh","t":56,"v":0.55},{"s":"bh","t":58,"v":0.6},{"s":"bh","t":60,"v":0.5},{"s":"bh","t":62,"v":0.55},{"s":"bh","t":64,"v":0.6},{"s":"bh","t":66,"v":0.5},{"s":"bh","t":68,"v":0.55},{"s":"bh","t":70,"v":0.6},{"s":"bh","t":72,"v":0.5},{"s":"bh","t":74,"v":0.55},{"s":"bh","t":76,"v":0.6},{"s":"bh","t":78,"v":0.5},{"s":"bh","t":80,"v":0.55},{"s":"bh","t":82,"v":0.6},{"s":"bh","t":84,"v":0.5},{"s":"bh","t":86,"v":0.55},{"s":"bh","t":88,"v":0.6},{"s":"bh","t":90,"v":0.5},{"s":"bh","t":92,"v":0.55},{"s":"bh","t":94,"v":0.6},{"s":"bh","t":96,"v":0.5},{"s":"bh","t":98,"v":0.55},{"s":"bh","t":100,"v":0.6},{"s":"bh","t":102,"v":0.5},{"s":"bh","t":104,"v":0.55},{"s":"bh","t":106,"v":0.6},{"s":"bh","t":108,"v":0.5},{"s":"bh","t":110,"v":0.55},{"s":"bh","t":112,"v":0.6},{"s":"bh","t":114,"v":0.5},{"s":"bh","t":116,"v":0.55},{"s":"bh","t":118,"v":0.6},{"s":"bh","t":120,"v":0.5},{"s":"bh","t":122,"v":0.55},{"s":"bh","t":124,"v":0.6},{"s":"bh","t":126,"v":0.5},{"s":"bh","t":128,"v":0.55},{"s":"bh","t":130,"v":0.6},{"s":"bh","t":132,"v":0.5},{"s":"bh","t":134,"v":0.55},{"s":"bh","t":136,"v":0.6},{"s":"bh","t":138,"v":0.5},{"s":"bh","t":140,"v":0.55},{"s":"bh","t":142,"v":0.6},{"s":"bh","t":144,"v":0.5},{"s":"bh","t":146,"v":0.55},{"s":"bh","t":148,"v":0.6},{"s":"bh","t":149.5,"v":1.3},{"s":"bh","t":151,"v":0.55},{"s":"bh","t":153,"v":0.6},{"s":"bh","t":155,"v":0.5},{"s":"bh","t":157,"v":0.55},{"s":"bh","t":159,"v":0.6},{"s":"bh","t":161,"v":0.5},{"s":"bh","t":163,"v":0.55},{"s":"bh","t":165,"v":0.6},{"s":"bh","t":167,"v":0.5},{"s":"bh","t":169,"v":0.55},{"s":"bh","t":171,"v":0.6},{"s":"bh","t":173,"v":0.5},{"s":"bh","t":175,"v":0.55},{"s":"bh","t":177,"v":0.6},{"s":"bh","t":179,"v":0.5},{"s":"bh","t":181,"v":0.55},{"s":"bh","t":183,"v":0.6},{"s":"bh","t":185,"v":0.5},{"s":"bh","t":187,"v":0.55},{"s":"bh","t":189,"v":0.6},{"s":"bh","t":191,"v":0.5},{"s":"bh","t":193,"v":0.55},{"s":"bh","t":195,"v":0.6},{"s":"bh","t":197,"v":0.5},{"s":"bh","t":199.7,"v":1.65},{"s":"bh","t":202,"v":0.6},{"s":"bh","t":204,"v":0.5},{"s":"bh","t":206,"v":0.55},{"s":"bh","t":208,"v":0.6},{"s":"bh","t":210,"v":0.7},{"s":"bh","t":212,"v":0.65},{"s":"bh","t":214,"v":0.9},{"s":"bh","t":216,"v":0.7},{"s":"bh","t":218,"v":0.75},{"s":"bh","t":219.5,"v":0.8},{"s":"bh","t":222,"v":0.65},{"s":"bh","t":224.5,"v":0.7},{"s":"bh","t":226,"v":0.85},{"s":"bh","t":228,"v":1.0},{"s":"bh","t":230,"v":0.9},{"s":"bh","t":232,"v":1.25},{"s":"bh","t":234,"v":1.1},{"s":"bh","t":236,"v":1.25},{"s":"bh","t":238,"v":1.15},{"s":"bh","t":240,"v":1.0},{"s":"bh","t":242,"v":1.2},{"s":"bh","t":244.4,"v":1.25},{"s":"bh","t":246.5,"v":1.4},{"s":"bh","t":248.5,"v":1.55},{"s":"bh","t":250.5,"v":1.6},{"s":"bh","t":252.5,"v":1.8},{"s":"bh","t":254.5,"v":1.75},{"s":"bh","t":256.6,"v":1.9},{"s":"bh","t":258.5,"v":2.1},{"s":"bh","t":260.7,"v":2.3},{"s":"bh","t":262.5,"v":2.2},{"s":"bh","t":264.7,"v":2.3},{"s":"bh","t":267,"v":2.45},{"s":"bh","t":269,"v":2.6},{"s":"bh","t":271,"v":1.55},{"s":"bh","t":273,"v":2.95},{"s":"bh","t":275,"v":3.0},{"s":"bh","t":277,"v":3.1},{"s":"bh","t":279,"v":3.3},{"s":"bh","t":281.4,"v":3.5},{"s":"bh","t":283.5,"v":3.5},{"s":"bh","t":285.5,"v":3.6},{"s":"bh","t":287,"v":4.0},{"s":"bh","t":288.5,"v":4.35},{"s":"bh","t":290.7,"v":4.9},{"s":"bh","t":292.3,"v":5.0},{"s":"bh","t":293.8,"v":5.2},{"s":"bh","t":295.7,"v":5.7},{"s":"bh","t":297.8,"v":6.2},{"s":"bh","t":299.4,"v":7.7}
]},
"layer":[
{"data":{"name":"pts"},"transform":[{"filter":{"field":"s","oneOf":["k","kh"]}}],
 "mark":{"type":"line","color":"#000000","strokeWidth":1,"clip":true},
 "encoding":{
  "x":{"field":"t","type":"quantitative","scale":{"domain":[0,300],"nice":false,"zero":false},
   "axis":{"orient":"bottom","values":[0,50,100,150,200,250,300],"title":"hőmérséklet (°C)","grid":false,"zindex":2,
    "domainColor":"#000000","domainWidth":2.5,"tickColor":"#000000","tickWidth":2.5,"tickSize":14,
    "labelFont":"Liberation Sans","labelFontSize":30,"labelColor":"#000000","labelPadding":3,"labelFlush":false,"labelOverlap":false,
    "titleFont":"Liberation Serif","titleFontSize":35,"titleFontWeight":"normal","titleColor":"#000000","titleY":101,"titleBaseline":"alphabetic"}},
  "y":{"field":"v","type":"quantitative","scale":{"domain":[0,37],"nice":false},
   "axis":{"orient":"left","values":[0,5,10,15,20,25,30,35],"title":"TL jelzés (önkényes egység)","grid":false,"zindex":2,
    "domainColor":"#000000","domainWidth":2.5,"tickColor":"#000000","tickWidth":2.5,"tickSize":14,
    "labelFont":"Liberation Sans","labelFontSize":32,"labelColor":"#000000","labelPadding":4,"labelOverlap":false,
    "titleFont":"Liberation Serif","titleFontSize":35,"titleFontWeight":"normal","titleColor":"#000000",
    "titleX":-83,"titleY":382,"titleAngle":-90,"titleAlign":"center","titleBaseline":"middle"}},
  "detail":{"field":"s"}}},
{"data":{"name":"pts"},"transform":[{"filter":{"field":"s","oneOf":["k","kh"]}}],
 "mark":{"type":"point","shape":"square","filled":true,"color":"#000000","size":215,"opacity":1,"strokeWidth":0,"clip":true},
 "encoding":{"x":{"field":"t","type":"quantitative","axis":null},"y":{"field":"v","type":"quantitative","axis":null}}},
{"data":{"name":"pts"},"transform":[{"filter":{"field":"s","oneOf":["r","rh"]}}],
 "mark":{"type":"line","color":"#000000","strokeWidth":1,"clip":true},
 "encoding":{"x":{"field":"t","type":"quantitative","axis":null},"y":{"field":"v","type":"quantitative","axis":null},"detail":{"field":"s"}}},
{"data":{"name":"pts"},"transform":[{"filter":{"field":"s","oneOf":["r","rh"]}}],
 "mark":{"type":"point","shape":"circle","filled":true,"color":"#FF0000","size":275,"opacity":1,"strokeWidth":0,"clip":true},
 "encoding":{"x":{"field":"t","type":"quantitative","axis":null},"y":{"field":"v","type":"quantitative","axis":null}}},
{"data":{"name":"pts"},"transform":[{"filter":{"field":"s","oneOf":["g","gh"]}}],
 "mark":{"type":"line","color":"#000000","strokeWidth":1,"clip":true},
 "encoding":{"x":{"field":"t","type":"quantitative","axis":null},"y":{"field":"v","type":"quantitative","axis":null},"detail":{"field":"s"}}},
{"data":{"name":"pts"},"transform":[{"filter":{"field":"s","oneOf":["g","gh"]}}],
 "mark":{"type":"point","shape":"triangle-up","filled":true,"color":"#00FF00","size":400,"opacity":1,"strokeWidth":0,"clip":true},
 "encoding":{"x":{"field":"t","type":"quantitative","axis":null},"y":{"field":"v","type":"quantitative","axis":null}}},
{"data":{"name":"pts"},"transform":[{"filter":{"field":"s","oneOf":["b","bh"]}}],
 "mark":{"type":"line","color":"#000000","strokeWidth":1,"clip":true},
 "encoding":{"x":{"field":"t","type":"quantitative","axis":null},"y":{"field":"v","type":"quantitative","axis":null},"detail":{"field":"s"}}},
{"data":{"name":"pts"},"transform":[{"filter":{"field":"s","oneOf":["b","bh"]}}],
 "mark":{"type":"point","shape":"triangle-down","filled":true,"color":"#0000FF","size":420,"opacity":1,"strokeWidth":0,"clip":true},
 "encoding":{"x":{"field":"t","type":"quantitative","axis":null},"y":{"field":"v","type":"quantitative","axis":null}}},
{"data":{"name":"ann"},
 "mark":{"type":"rule","color":"#000000","strokeWidth":2},
 "encoding":{"x":{"field":"x1","type":"quantitative","axis":null},"y":{"field":"y1","type":"quantitative","axis":null},"x2":{"field":"x2"},"y2":{"field":"y2"}}},
{"data":{"name":"ann"},
 "mark":{"type":"text","align":"right","baseline":"alphabetic","font":"Liberation Serif","fontSize":33,"color":"#000000"},
 "encoding":{
  "x":{"field":"tx","type":"quantitative","axis":{"orient":"bottom","values":[25,75,125,175,225,275],"labels":false,"domain":false,"grid":false,"title":null,"tickColor":"#000000","tickWidth":2.5,"tickSize":7,"zindex":2}},
  "y":{"field":"ty","type":"quantitative","axis":{"orient":"left","values":[2.5,7.5,12.5,17.5,22.5,27.5,32.5],"labels":false,"domain":false,"grid":false,"title":null,"tickColor":"#000000","tickWidth":2.5,"tickSize":7,"zindex":2}},
  "text":{"field":"l"}}}
],
"resolve":{"axis":{"x":"independent","y":"independent"}}
}
